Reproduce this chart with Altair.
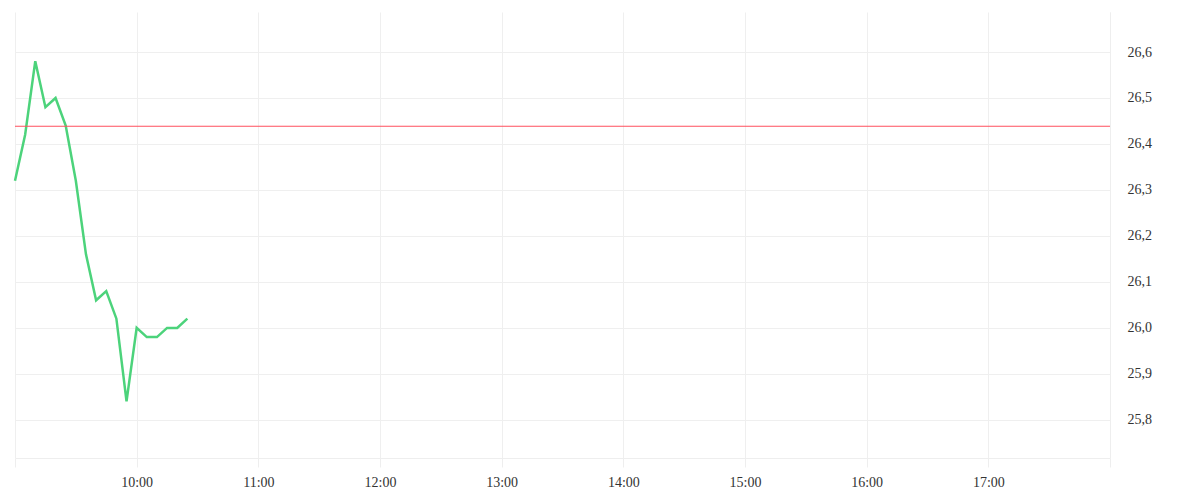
import altair as alt
import pandas as pd

times = ["09:00", "09:05", "09:10", "09:15", "09:20", "09:25", "09:30", "09:35",
         "09:40", "09:45", "09:50", "09:55", "10:00", "10:05", "10:10", "10:15",
         "10:20", "10:25"]
prices = [26.32, 26.42, 26.58, 26.48, 26.50, 26.44, 26.32, 26.16,
          26.06, 26.08, 26.02, 25.84, 26.00, 25.98, 25.98, 26.00,
          26.00, 26.02]
reference_price = 26.4385
y_ticks = [25.8, 25.9, 26.0, 26.1, 26.2, 26.3, 26.4, 26.5, 26.6]
hour_ticks = list(range(9, 19))

df = pd.DataFrame({"t": ["2024-01-02T" + t + ":00Z" for t in times], "price": prices})
ref = pd.DataFrame({"price": [reference_price]})

x_scale = alt.Scale(type="utc",
                    domain=[alt.DateTime(year=2024, month=1, date=2, hours=9, utc=True),
                            alt.DateTime(year=2024, month=1, date=2, hours=18, utc=True)])
y_scale = alt.Scale(domain=[25.717, 26.687], zero=False, nice=False)

x_axis = alt.Axis(
    title=None,
    values=[alt.DateTime(year=2024, month=1, date=2, hours=h, utc=True) for h in hour_ticks],
    labelExpr="utchours(datum.value) == 9 || utchours(datum.value) == 18 ? '' : utcFormat(datum.value, '%H:%M')",
    grid=True, gridColor="#efefef", domainColor="#eeeeee", tickColor="#eeeeee",
    tickSize=9, labelPadding=8, labelColor="#333333", labelFontSize=14,
    labelFont="Liberation Serif",
)
y_axis = alt.Axis(
    title=None, orient="right", values=y_ticks,
    labelExpr="replace(format(datum.value, '.1f'), '.', ',')",
    grid=True, gridColor="#efefef", domainColor="#eeeeee", ticks=False,
    labelPadding=17, labelColor="#333333", labelFontSize=14,
    labelFont="Liberation Serif",
)

line = alt.Chart(df).mark_line(color="#4cd37b", strokeWidth=2.5).encode(
    x=alt.X("t:T", scale=x_scale, axis=x_axis),
    y=alt.Y("price:Q", scale=y_scale, axis=y_axis),
)
rule = alt.Chart(ref).mark_rule(color="#ff4f5e", strokeWidth=1.2, opacity=1).encode(
    y=alt.Y("price:Q", scale=y_scale),
)

chart = alt.layer(line, rule).properties(
    width=1095, height=446,
    autosize=alt.AutoSizeParams(type="none"),
    padding={"left": 7, "top": 4, "right": 80, "bottom": 30},
).configure_view(stroke=None)

chart.save("out.html", embed_options={"renderer": "svg", "actions": False})
